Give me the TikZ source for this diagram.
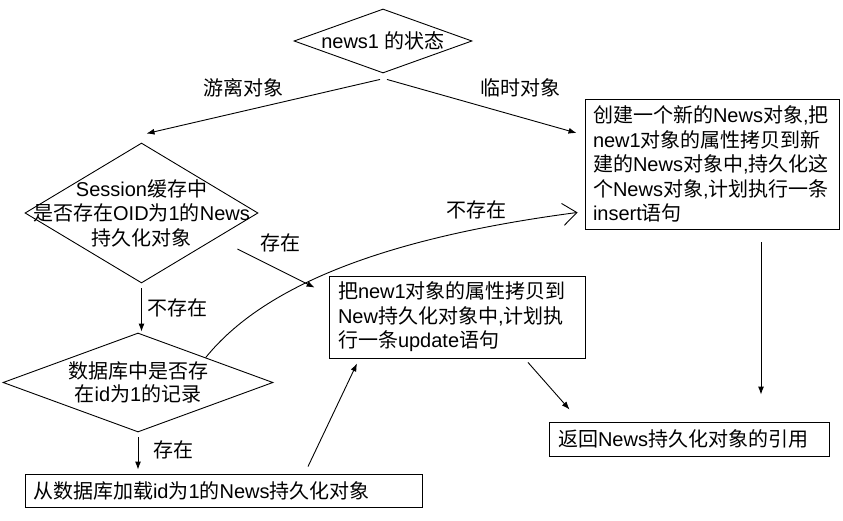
\documentclass[tikz,border=0pt]{standalone}
\usepackage{fontspec}
\setmainfont{Liberation Sans}
\newfontfamily\cjkfont{Noto Sans CJK SC}
\newfontfamily\latinfont{Liberation Sans}
\XeTeXinterchartokenstate=1
\newXeTeXintercharclass\CJKclass
\count255="4E00
\loop
  \XeTeXcharclass\count255=\CJKclass
  \ifnum\count255<"9FFF \advance\count255 by 1
\repeat
\XeTeXinterchartoks 0 \CJKclass = {\cjkfont}
\XeTeXinterchartoks 4095 \CJKclass = {\cjkfont}
\XeTeXinterchartoks \CJKclass 0 = {\latinfont}
\XeTeXinterchartoks 4095 0 = {\latinfont}
\usetikzlibrary{shapes.geometric,arrows.meta,calc}
\begin{document}
\begin{tikzpicture}[x=1pt,y=-1pt,
  every node/.style={font=\fontsize{20}{24.5}\selectfont},
  dia/.style={draw,shape=diamond,inner sep=0pt,line width=0.9pt},
  box/.style={draw,rectangle,align=left,inner ysep=2pt,line width=0.9pt},
  arr/.style={line width=0.9pt,-{Latex[length=8pt,width=6pt]}},
  openarr/.style={line width=0.9pt,-{Straight Barb[length=14pt,width=22pt]}},
  lbl/.style={inner sep=0pt}]
\useasboundingbox (0,0) rectangle (843,521);
\fill[white] (0,0) rectangle (843,521);

% decision nodes
\node[dia,minimum width=178pt,minimum height=64pt,
  label={[align=center]center:news1 的状态}] (d1) at (383,41) {};
\node[dia,minimum width=233pt,minimum height=140pt,
  label={[align=center]center:Session缓存中\\是否存在OID为1的News\\持久化对象}] (d2) at (141.5,213) {};
\node[dia,minimum width=270pt,minimum height=99pt,
  label={[align=center,font=\fontsize{20}{23}\selectfont]center:数据库中是否存\\在id为1的记录}] (d3) at (138,382.5) {};

% process boxes
\node[box,text width=238pt,inner xsep=8pt,minimum height=130pt] (b1) at (712,164)
  {创建一个新的News对象,把\\new1对象的属性拷贝到新\\建的News对象中,持久化这\\个News对象,计划执行一条\\insert语句};
\node[box,text width=238pt,inner xsep=9pt,minimum height=82pt] (b2) at (457,317)
  {把new1对象的属性拷贝到\\New持久化对象中,计划执\\行一条update语句};
\node[box,text width=381pt,inner xsep=8pt,minimum height=33pt] (b3) at (223.5,490.5)
  {从数据库加载id为1的News持久化对象};
\node[box,text width=262pt,inner xsep=9pt,minimum height=34pt] (b4) at (689,439)
  {返回News持久化对象的引用};

% labels
\node[lbl] (l1) at (243,88) {游离对象};
\node[lbl] (l2) at (520,88) {临时对象};
\node[lbl] (l3) at (280,243) {存在};
\node[lbl] (l4) at (177,308) {不存在};
\node[lbl] (l5) at (173,450) {存在};
\node[lbl] (l6) at (476,210) {不存在};

% connectors
\draw[arr] ($(d1.south)+(-3,6)$) -- ($(d2.north)+(5,-9)$);
\draw[arr] ($(d1.south)+(4,6)$) -- ($(b1.west)+(-8,-31)$);
\draw[arr] ($(d2.east)+(-21,36)$) -- ($(b2.north west)+(-14,12)$);
\draw[arr] ($(d2.south)+(0,5)$) -- ($(d2.south |- d3.north)+(0,-1)$);
\draw[arr] ($(d3.south)+(0,5)$) -- ($(d3.south |- b3.north)+(0,-4)$);
\draw[arr] ($(b3.north)+(84.5,-7)$) -- ($(b2.south)+(-100,5)$);
\draw[openarr] (d3.north east) .. controls +(59,-73) and +(-190,25) .. ($(b1.south west)+(-7,-17)$);
\draw[arr] ($(b2.south)+(71,4)$) -- ($(b4.north west)+(21,-12)$);
\draw[arr] ($(b1.south)+(49,13)$) -- ($(b4.north)+(72,-27)$);
\end{tikzpicture}
\end{document}
